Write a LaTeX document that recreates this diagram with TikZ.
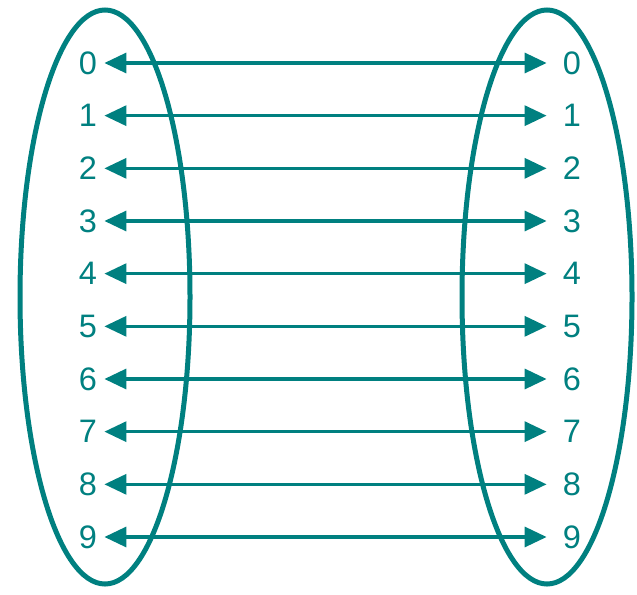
\documentclass[tikz,border=0pt]{standalone}
\usepackage{fontspec}
\setmainfont{Liberation Sans}
\usetikzlibrary{shapes.geometric, arrows.meta, positioning}
\definecolor{tealline}{HTML}{008080}

\tikzset{
  setloop/.style={draw=tealline, line width=0.1cm, ellipse, minimum width=3.4cm, minimum height=11.48cm, inner sep=0pt},
  digit/.style={text=tealline, inner sep=0pt, font=\fontsize{18.5}{20}\selectfont},
  pairline/.style={draw=tealline, line width=0.065cm, {Triangle[length=0.44cm, width=0.4cm]}-{Triangle[length=0.44cm, width=0.4cm]}}
}

\begin{document}
\begin{tikzpicture}
    \useasboundingbox (0,0) rectangle (12.74,11.88);
    % the two sets
    \node[setloop] (lset) at (2.10,5.94) {};
    \node[setloop] (rset) at (10.94,5.94) {};
    % elements and the maps between them
    \foreach \i in {0,...,9} {
      \node[digit] (l\i) at (1.76, 10.62-1.0533*\i) {\i};
      \node[digit] (r\i) at (11.44, 10.62-1.0533*\i) {\i};
      \draw[pairline] ([xshift=0.14cm]l\i.east) -- ([xshift=-0.32cm]r\i.west);
    }
  \end{tikzpicture}
\end{document}
